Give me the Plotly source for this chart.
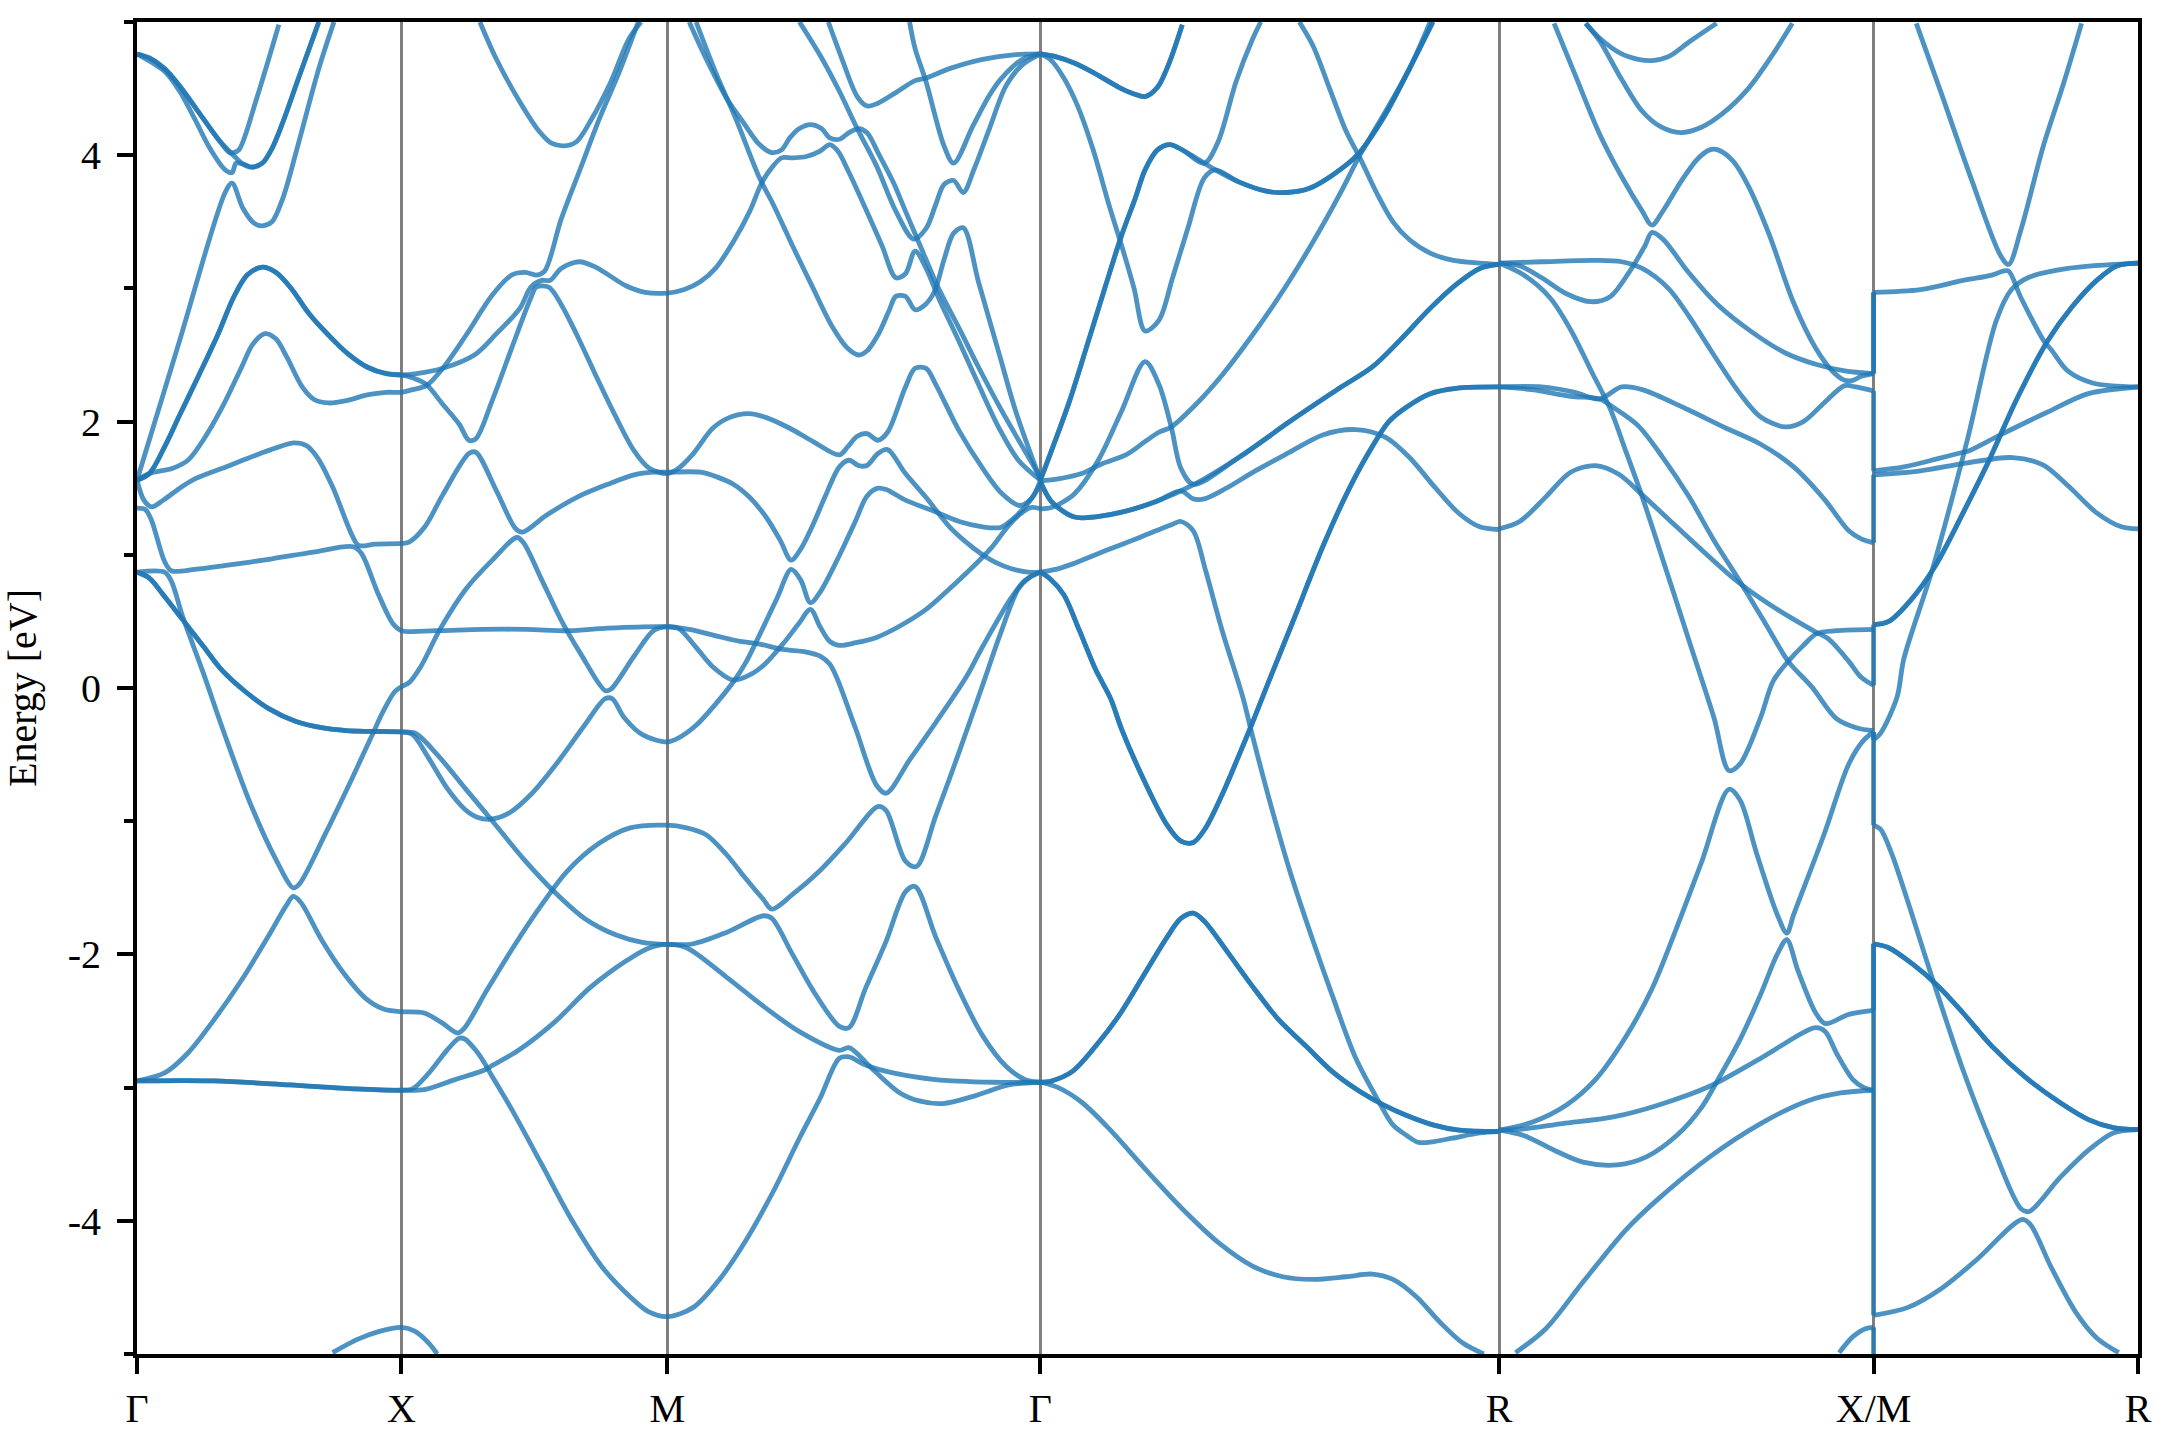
import plotly.graph_objects as go

# High-symmetry path positions and labels
k_ticks = [0, 1.92, 3.85, 6.56, 9.89, 12.61, 14.53]
k_labels = ["Γ", "X", "M", "Γ", "R", "X/M", "R"]
e_ticks = [-4, -2, 0, 2, 4]
e_labels = ["-4", "-2", "0", "2", "4"]
e_minor = [-5, -3, -1, 1, 3, 5]

# ---- Γ → X → M → Γ ----
k01 = [0,.09,.20,.31,.45,.59,.70,.76,.83,.91,.98,1.06,1.17,1.32]
e01 = [4.76,4.73,4.65,4.52,4.32,4.12,4.0,3.94,3.91,3.94,4.05,4.25,4.57,5.0]
k02 = [0,.09,.20,.31,.45,.59,.67,.70,.74,.87,1.03]
e02 = [4.76,4.73,4.65,4.52,4.32,4.12,4.02,4.02,4.04,4.43,4.98]
k03 = [0,.20,.31,.42,.53,.64,.69,.72,.78,.83,.91,.98,1.06,1.17,1.32]
e03 = [4.76,4.63,4.48,4.27,4.05,3.89,3.87,3.94,3.93,3.91,3.94,4.05,4.25,4.57,5.0]
k04 = [0,.31,.64,.69,.77,.85,.91,.98,1.06,1.17,1.32,1.43]
e04 = [1.56,2.61,3.72,3.79,3.60,3.49,3.47,3.50,3.68,4.08,4.65,5.0]
k05 = [0,.09,.20,.31,.45,.59,.70,.80,.91,1.01,1.12,1.25,1.39,1.53,1.67,1.81,1.92,
       2.03,2.22,2.45,2.61,2.78,2.86,2.94,3.0,3.08,3.21,3.33,3.55,3.69,3.85,
       3.97,4.09,4.20,4.33,4.45,4.54,4.62,4.68,4.76,4.86,4.96,5.03,5.09,5.17,5.29,5.41,5.51,5.58,5.65,5.73,5.82,5.97,6.11,6.26,6.40,6.56]
e05 = [1.56,1.61,1.81,2.05,2.35,2.66,2.93,3.10,3.16,3.12,3.0,2.81,2.65,2.51,2.41,2.36,2.35,
       2.36,2.40,2.50,2.66,2.85,3.01,3.06,3.06,3.15,3.20,3.16,3.02,2.97,2.965,
       2.99,3.05,3.15,3.35,3.58,3.80,3.92,3.98,3.98,3.99,4.03,4.08,4.03,3.87,3.60,3.32,3.08,3.11,3.28,3.15,2.93,2.60,2.28,1.95,1.71,1.56]
k06 = [0,.09,.20,.31,.45,.59,.70,.80,.91,1.01,1.12,1.25,1.39,1.53,1.67,1.81,1.92,
       2.0,2.10,2.22,2.34,2.41,2.46,2.58,2.72,2.86,2.90,2.99,3.08,3.19,3.33,3.47,3.61,3.72,3.85,
       3.92,4.04,4.18,4.30,4.44,4.57,4.74,4.91,5.10,5.16,5.23,5.30,5.38,5.45,5.58,5.65,5.73,5.80,5.97,6.14,6.28,6.41,6.50,6.56]
e06 = [1.56,1.61,1.81,2.05,2.35,2.66,2.93,3.10,3.16,3.12,3.0,2.81,2.65,2.51,2.41,2.36,2.35,
       2.33,2.28,2.13,1.98,1.86,1.87,2.16,2.55,2.93,3.01,3.01,2.88,2.66,2.35,2.05,1.78,1.65,1.61,
       1.64,1.76,1.95,2.03,2.06,2.03,1.95,1.85,1.75,1.81,1.89,1.91,1.86,1.92,2.26,2.40,2.40,2.28,1.93,1.65,1.46,1.37,1.43,1.56]
k07 = [0,.05,.105,.19,.31,.42,.645,.895,1.03,1.14,1.23,1.31,1.42,1.56,1.61,1.73,1.92,1.975,2.09,2.22,2.41,2.46,2.61,2.75,2.80,2.97,3.19,3.42,3.61,3.75,3.85,
       4.09,4.21,4.33,4.45,4.57,4.67,4.75,4.82,4.91,5.0,5.10,5.17,5.24,5.30,5.38,5.45,5.58,5.73,5.90,6.02,6.14,6.23,6.35,6.47,6.56]
e07 = [1.56,1.41,1.36,1.41,1.50,1.57,1.66,1.76,1.81,1.84,1.82,1.73,1.51,1.15,1.07,1.08,1.085,1.095,1.21,1.45,1.76,1.77,1.48,1.195,1.17,1.295,1.43,1.53,1.60,1.62,1.62,
       1.62,1.585,1.53,1.43,1.28,1.11,.96,1.045,1.23,1.445,1.66,1.71,1.67,1.67,1.76,1.79,1.61,1.43,1.21,1.095,1.0,.945,.895,.87,.87]
k08 = [0,.09,.26,.37,.48,.62,.76,.84,.93,1.01,1.09,1.20,1.28,1.39,1.53,1.67,1.81,1.92,2.0,2.10,2.22,2.39,2.58,2.72,2.82,2.90,2.96,3.08,3.22,3.36,3.50,3.64]
e08 = [1.56,1.61,1.65,1.71,1.86,2.11,2.41,2.58,2.66,2.62,2.48,2.26,2.17,2.14,2.16,2.20,2.22,2.22,2.24,2.27,2.40,2.65,2.95,3.10,3.12,3.10,3.13,3.52,3.90,4.28,4.62,5.0]
k09 = [2.49,2.61,2.78,2.92,3.01,3.10,3.19,3.30,3.44,3.57,3.66]
e09 = [5.0,4.72,4.40,4.18,4.09,4.07,4.10,4.27,4.55,4.87,5.0]
k10 = [0,.06,.105,.20,.25,.42,.645,.98,1.28,1.57,1.63,1.75,1.86,1.92,2.17,2.50,2.83,3.14,3.42,3.85,
       4.01,4.21,4.38,4.52,4.69,4.86,4.96,5.03,5.08,5.22,5.37,5.44,5.61,5.80,6.02,6.14,6.35,6.45,6.56]
e10 = [1.35,1.34,1.26,.95,.88,.89,.92,.97,1.02,1.06,1.01,.71,.48,.43,.43,.44,.44,.43,.45,.46,
       .44,.39,.35,.33,.29,.27,.24,.18,.08,-.31,-.73,-.79,-.54,-.26,.08,.31,.68,.81,.87]
k11 = [0,.20,.25,.33,.48,.63,.82,1.01,1.135,1.18,1.37,1.57,1.70,1.79,1.87,1.92,1.975,2.06,2.20,2.39,2.58,2.76,2.81,2.94,3.08,3.22,3.40,3.44,3.61,3.75,3.85,
       3.93,4.04,4.18,4.33,4.47,4.56,4.69,4.81,4.89,4.96,5.03,5.10,5.22,5.37,5.53,5.73,5.90,6.04,6.21,6.35,6.49,6.56]
e11 = [.87,.87,.80,.54,.117,-.33,-.86,-1.29,-1.50,-1.47,-1.09,-.66,-.37,-.17,-.03,.01,.04,.16,.44,.745,.96,1.13,1.085,.81,.51,.26,-.02,-.01,.24,.43,.46,
       .45,.33,.16,.06,.11,.18,.33,.49,.59,.46,.35,.32,.34,.38,.46,.59,.745,.88,1.06,1.245,1.355,1.345]
k12 = [0,.09,.19,.33,.48,.62,.79,.96,1.15,1.35,1.52,1.69,1.92,2.0,2.12,2.25,2.38,2.47,2.57,2.70,2.86,3.06,3.25,3.40,3.45,3.54,3.67,3.85,
       3.94,4.06,4.21,4.34,4.42,4.54,4.65,4.75,4.82,4.89,4.96,5.10,5.22,5.30,5.38,5.44,5.58,5.78,5.97,6.14,6.27,6.35,6.48,6.56]
e12 = [.87,.825,.70,.515,.315,.13,-.03,-.157,-.25,-.30,-.32,-.326,-.33,-.35,-.53,-.75,-.91,-.97,-.985,-.94,-.80,-.55,-.28,-.08,-.08,-.225,-.35,-.405,
       -.37,-.28,-.11,.06,.19,.44,.68,.89,.81,.64,.72,.995,1.26,1.44,1.50,1.49,1.41,1.33,1.25,1.21,1.205,1.26,1.40,1.53]
k13 = [0,.09,.19,.33,.48,.62,.79,.96,1.15,1.35,1.52,1.69,1.92,2.02,2.18,2.38,2.57,2.80,3.03,3.25,3.48,3.67,3.85,
       4.04,4.28,4.55,4.61,4.76,4.93,5.10,5.17,5.29,5.44,5.58,5.65,5.80,5.97,6.14,6.31,6.45,6.56]
e13 = [.87,.825,.70,.515,.315,.13,-.03,-.157,-.25,-.30,-.32,-.326,-.33,-.34,-.50,-.75,-.985,-1.275,-1.53,-1.73,-1.855,-1.91,-1.925,
       -1.92,-1.835,-1.71,-1.73,-2.0,-2.305,-2.54,-2.55,-2.255,-1.90,-1.53,-1.49,-1.87,-2.27,-2.61,-2.84,-2.94,-2.96]
k14 = [0,.20,.37,.56,.755,.95,1.08,1.135,1.19,1.34,1.50,1.66,1.79,1.92,2.085,2.21,2.33,2.38,2.54,2.73,2.93,3.12,3.35,3.58,3.85,
       3.99,4.13,4.28,4.42,4.55,4.61,4.76,4.96,5.15,5.38,5.44,5.58,5.66,5.80,5.97,6.16,6.26,6.40,6.48,6.56]
e14 = [-2.95,-2.89,-2.74,-2.49,-2.2,-1.87,-1.64,-1.565,-1.61,-1.89,-2.14,-2.33,-2.41,-2.43,-2.44,-2.51,-2.59,-2.55,-2.27,-1.95,-1.64,-1.38,-1.17,-1.05,-1.03,
       -1.05,-1.10,-1.25,-1.43,-1.59,-1.66,-1.55,-1.37,-1.16,-.89,-.92,-1.30,-1.34,-.96,-.48,.08,.38,.745,.83,.87]
k15 = [0,.56,1.11,1.59,1.92,2.085,2.31,2.52,2.57,2.77,3.03,3.29,3.55,3.71,3.85,
       3.99,4.28,4.55,4.81,5.10,5.17,5.34,5.54,5.68,5.85,6.09,6.33,6.56]
e15 = [-2.95,-2.95,-2.98,-3.01,-3.02,-3.015,-2.94,-2.87,-2.84,-2.72,-2.51,-2.25,-2.05,-1.955,-1.925,
       -1.95,-2.17,-2.39,-2.58,-2.72,-2.70,-2.86,-3.04,-3.10,-3.12,-3.06,-2.98,-2.96]
k16 = [0,.56,1.11,1.59,1.92,2.0,2.12,2.25,2.34,2.38,2.46,2.52,2.57,2.73,2.93,3.155,3.38,3.58,3.71,3.85,
       4.04,4.23,4.42,4.62,4.81,4.96,5.10,5.17,5.29,5.49,5.80,6.21,6.56]
e16 = [-2.95,-2.95,-2.98,-3.01,-3.02,-3.01,-2.89,-2.72,-2.63,-2.635,-2.72,-2.81,-2.9,-3.18,-3.56,-3.99,-4.35,-4.57,-4.68,-4.72,
       -4.65,-4.44,-4.15,-3.78,-3.38,-3.08,-2.78,-2.77,-2.83,-2.89,-2.94,-2.96,-2.96]
k17 = [1.42,1.6,1.76,1.92,2.02,2.12,2.18]
e17 = [-4.99,-4.89,-4.83,-4.8,-4.83,-4.92,-5.0]
k18 = [4.01,4.13,4.28,4.40,4.52,4.61,4.68,4.74,4.81,4.89,4.97,5.03,5.10,5.17,5.24,5.30,5.39,5.49,5.58,5.65,5.73,5.82,5.97,6.11,6.28,6.43,6.56]
e18 = [5.0,4.73,4.43,4.25,4.08,4.02,4.04,4.13,4.20,4.23,4.20,4.13,4.12,4.17,4.20,4.17,4.0,3.80,3.58,3.41,3.215,3.0,2.70,2.41,2.08,1.81,1.58]
k19 = [4.06,4.21,4.35,4.52,4.62,4.76,4.91,5.05,5.16,5.24,5.30,5.38,5.46,5.51,5.58,5.65,5.72,5.79,5.86,5.93,6.0,6.11,6.26,6.38,6.56]
e19 = [5.0,4.60,4.27,3.83,3.63,3.32,3.0,2.71,2.55,2.50,2.53,2.65,2.83,2.94,2.94,2.84,2.875,2.975,3.215,3.415,3.455,3.05,2.51,2.08,1.56]
k20 = [4.81,4.96,5.10,5.23,5.37,5.51,5.64,5.73,5.80,5.86,5.93,6.0,6.08,6.19,6.31,6.43,6.56]
e20 = [5.0,4.75,4.48,4.20,3.92,3.58,3.37,3.45,3.63,3.78,3.81,3.72,3.90,4.20,4.52,4.68,4.76]
k21 = [5.02,5.12,5.23,5.30,5.38,5.51,5.65,5.73,5.90,6.14,6.38,6.56]
e21 = [5.0,4.72,4.44,4.37,4.39,4.47,4.56,4.58,4.65,4.72,4.755,4.76]
k22 = [5.61,5.65,5.73,5.86,5.93,6.07,6.19,6.28,6.43,6.56]
e22 = [5.0,4.80,4.55,4.07,3.94,4.22,4.45,4.58,4.72,4.76]

# ---- Γ → R ----
k23 = [6.56,6.67,6.81,6.98,7.13,7.24,7.32,7.41,7.49,7.59]
e23 = [4.76,4.74,4.69,4.60,4.51,4.46,4.44,4.51,4.68,4.98]
k24 = [6.56,6.63,6.73,6.83,6.94,7.06,7.15,7.24,7.32,7.42,7.52,7.63,7.75,7.83,8.0,8.20,8.35,8.51,8.68,8.86,9.05,9.24,9.41]
e24 = [4.76,4.72,4.58,4.37,4.05,3.62,3.32,3.0,2.68,2.76,3.08,3.45,3.83,3.89,3.80,3.73,3.72,3.75,3.85,4.0,4.28,4.65,5.0]
k25 = [6.56,6.64,6.77,6.91,7.03,7.15,7.25,7.32,7.41,7.50,7.59,7.75,7.83,8.0,8.20,8.35,8.51,8.68,8.86,9.05,9.24,9.41]
e25 = [1.56,1.78,2.15,2.61,3.01,3.40,3.68,3.89,4.04,4.08,4.04,3.94,3.89,3.80,3.73,3.72,3.75,3.85,4.0,4.28,4.65,5.0]
k26 = [6.56,6.64,6.77,6.91,7.03,7.15,7.25,7.32,7.41,7.50,7.59,7.75,7.85,7.98,8.10,8.16]
e26 = [1.56,1.78,2.15,2.61,3.01,3.40,3.68,3.89,4.04,4.08,4.04,3.94,4.10,4.55,4.87,5.0]
k27 = [6.56,6.64,6.80,6.91,7.15,7.40,7.58,7.67,7.75,7.91,8.12,8.37,8.61,8.85,9.07,9.24,9.43,9.60,9.75,9.89]
e27 = [1.55,1.40,1.285,1.28,1.32,1.40,1.48,1.42,1.42,1.50,1.63,1.77,1.90,1.94,1.88,1.73,1.50,1.31,1.21,1.19]
k28 = [6.56,6.64,6.80,6.91,7.15,7.40,7.68,8.0,8.37,8.73,8.97,9.17,9.39,9.58,9.75,9.89]
e28 = [1.55,1.40,1.285,1.28,1.32,1.40,1.53,1.73,2.0,2.25,2.41,2.61,2.85,3.03,3.15,3.18]
k29 = [6.56,6.64,6.73,6.81,6.98,7.15,7.32,7.42,7.51,7.58,7.67,8.0,8.37,8.73,8.97,9.17,9.39,9.58,9.75,9.89]
e29 = [1.345,1.355,1.40,1.46,1.71,2.08,2.45,2.28,1.96,1.65,1.53,1.73,2.0,2.25,2.41,2.61,2.85,3.03,3.15,3.18]
k30 = [6.56,6.69,6.86,7.0,7.18,7.32,7.42,7.51,7.69,7.88,8.10,8.32,8.54,8.73,8.88,9.05,9.24,9.39]
e30 = [1.555,1.57,1.61,1.68,1.75,1.85,1.92,1.96,2.13,2.35,2.65,2.98,3.35,3.70,4.0,4.30,4.65,5.0]
k31 = [8.44,8.54,8.66,8.78,8.88,9.0,9.12,9.24,9.39,9.56,9.75,9.89]
e31 = [5.0,4.82,4.50,4.18,3.98,3.72,3.50,3.365,3.265,3.21,3.19,3.18]
k32 = [6.56,6.67,6.79,7.03,7.28,7.52,7.58,7.67,7.76,7.88,8.03,8.10,8.22,8.37,8.54,8.68,8.85,9.02,9.12,9.22,9.30,9.39,9.55,9.75,9.89]
e32 = [.87,.89,.93,1.03,1.13,1.23,1.25,1.18,.88,.43,-.07,-.36,-.83,-1.37,-1.90,-2.31,-2.78,-3.11,-3.28,-3.36,-3.41,-3.41,-3.38,-3.34,-3.33]
k33 = [6.56,6.63,6.73,6.84,6.96,7.07,7.15,7.32,7.48,7.58,7.67,7.76,7.88,8.0,8.10,8.23,8.39,8.61,8.78,8.94,9.09,9.22,9.39,9.58,9.89]
e33 = [.87,.82,.70,.44,.14,-.08,-.31,-.71,-1.03,-1.15,-1.16,-1.05,-.80,-.51,-.26,.08,.49,1.06,1.45,1.76,2.0,2.11,2.21,2.25,2.26]
k34 = [6.56,6.64,6.79,6.96,7.13,7.32,7.48,7.58,7.67,7.75,7.91,8.10,8.29,8.49,8.68,8.88,9.05,9.22,9.41,9.60,9.89]
e34 = [-2.96,-2.95,-2.88,-2.69,-2.46,-2.14,-1.87,-1.73,-1.69,-1.75,-1.97,-2.24,-2.49,-2.69,-2.88,-3.03,-3.13,-3.21,-3.28,-3.32,-3.33]
k35 = [6.56,6.69,6.86,7.06,7.32,7.61,7.86,8.10,8.32,8.54,8.78,8.97,9.12,9.29,9.46,9.63,9.78]
e35 = [-2.96,-3.0,-3.11,-3.31,-3.61,-3.93,-4.17,-4.34,-4.42,-4.44,-4.42,-4.40,-4.44,-4.57,-4.76,-4.92,-5.0]

# ---- R → X ----
k36 = [10.29,10.44,10.62,10.78,10.93,11.0,11.08,11.21,11.33,11.42,11.48,11.59,11.70,11.85,12.03,12.19,12.31,12.40,12.46,12.52,12.61]
e36 = [4.99,4.61,4.16,3.84,3.58,3.475,3.58,3.80,3.97,4.04,4.04,3.955,3.77,3.41,2.89,2.55,2.38,2.31,2.31,2.34,2.36]
k37 = [10.52,10.62,10.78,10.90,11.0,11.12,11.27,11.47]
e37 = [4.99,4.88,4.76,4.72,4.71,4.74,4.85,4.99]
k38 = [10.52,10.62,10.78,10.93,11.07,11.21,11.36,11.51,11.70,11.88,12.02]
e38 = [4.99,4.86,4.57,4.33,4.21,4.17,4.21,4.31,4.50,4.76,4.99]
k39 = [9.89,10.04,10.20,10.38,10.56,10.70,10.84,10.95,11.0,11.08,11.27,11.48,11.73,11.97,12.19,12.40,12.61]
e39 = [3.19,3.17,3.08,2.96,2.90,2.94,3.13,3.32,3.42,3.37,3.115,2.875,2.67,2.515,2.43,2.38,2.36]
k40 = [9.89,10.20,10.59,10.78,10.93,11.12,11.27,11.45,11.64,11.79,11.97,12.10,12.25,12.40,12.48,12.61]
e40 = [3.19,3.20,3.21,3.20,3.15,3.0,2.79,2.50,2.21,2.035,1.96,2.0,2.14,2.27,2.26,2.23]
k41 = [9.89,10.07,10.26,10.41,10.56,10.70,10.81,10.93,11.12,11.27,11.45,11.56,11.64,11.79,11.88,11.99,12.10,12.20,12.34,12.61]
e41 = [3.19,3.10,2.93,2.69,2.38,2.09,1.78,1.435,.835,.355,-.22,-.62,-.57,-.22,.05,.20,.32,.41,.43,.44]
k42 = [9.89,10.20,10.44,10.62,10.78,10.93,11.24,11.54,11.79,12.03,12.25,12.43,12.52,12.61]
e42 = [2.26,2.26,2.22,2.17,2.26,2.24,2.10,1.95,1.83,1.66,1.42,1.18,1.12,1.09]
k43 = [9.89,10.13,10.41,10.62,10.73,10.90,11.08,11.27,11.45,11.64,11.85,11.99,12.16,12.34,12.49,12.61]
e43 = [2.26,2.24,2.19,2.17,2.10,1.97,1.73,1.435,1.11,.80,.44,.20,.01,-.23,-.30,-.32]
k44 = [9.89,10.04,10.23,10.41,10.59,10.76,10.93,11.18,11.39,11.62,11.85,12.19,12.28,12.43,12.52,12.61]
e44 = [1.195,1.25,1.435,1.62,1.67,1.605,1.45,1.21,1.01,.80,.63,.42,.37,.20,.08,.02]
k45 = [9.89,10.07,10.35,10.72,11.05,11.42,11.79,12.19,12.26,12.34,12.46,12.54,12.61]
e45 = [-3.32,-3.31,-3.27,-3.22,-3.13,-2.99,-2.78,-2.55,-2.58,-2.74,-2.94,-3.0,-3.02]
k46 = [9.89,10.13,10.38,10.59,10.81,11.0,11.18,11.36,11.56,11.64,11.76,11.91,11.98,12.03,12.25,12.43,12.54,12.61]
e46 = [-3.32,-3.26,-3.13,-2.94,-2.62,-2.26,-1.80,-1.31,-.76,-.84,-1.24,-1.70,-1.84,-1.70,-1.10,-.57,-.39,-.33]
k47 = [9.89,10.07,10.29,10.50,10.75,10.96,11.18,11.36,11.48,11.64,11.79,11.91,11.98,12.06,12.19,12.26,12.43,12.61]
e47 = [-3.32,-3.36,-3.47,-3.56,-3.58,-3.52,-3.36,-3.15,-2.94,-2.64,-2.30,-2.0,-1.89,-2.12,-2.44,-2.52,-2.45,-2.42]
k48 = [10.01,10.23,10.50,10.81,11.02,11.42,11.79,12.13,12.37,12.61]
e48 = [-4.99,-4.81,-4.46,-4.07,-3.86,-3.52,-3.27,-3.10,-3.04,-3.02]
k49 = [12.36,12.46,12.55,12.61]
e49 = [-4.99,-4.87,-4.81,-4.80]

# ---- M → R ----
k50 = [12.61,12.95,13.26,13.47,13.55,13.59,13.68,13.85,13.90,14.02,14.20,14.53]
e50 = [2.97,2.99,3.06,3.10,3.13,3.13,2.93,2.60,2.54,2.38,2.29,2.26]
k51 = [12.92,13.10,13.32,13.53,13.59,13.68,13.84,13.99,14.12]
e51 = [4.99,4.47,3.82,3.25,3.18,3.44,4.06,4.54,4.99]
k52 = [12.61,12.83,13.07,13.26,13.30,13.53,13.87,14.17,14.53]
e52 = [1.63,1.66,1.72,1.77,1.78,1.90,2.07,2.21,2.26]
k53 = [12.61,12.95,13.26,13.62,13.84,14.02,14.23,14.41,14.53]
e53 = [1.60,1.63,1.685,1.73,1.675,1.52,1.315,1.21,1.195]
k54 = [12.61,12.72,12.88,13.06,13.26,13.44,13.65,13.87,14.05,14.23,14.38,14.53]
e54 = [.475,.50,.66,.92,1.315,1.69,2.17,2.60,2.86,3.06,3.17,3.19]
k55 = [12.61,12.66,12.78,12.83,13.04,13.29,13.50,13.61,13.73,14.02,14.53]
e55 = [-.39,-.34,-.07,.22,.90,1.86,2.755,2.99,3.08,3.15,3.19]
k56 = [12.61,12.66,12.74,13.04,13.26,13.47,13.68,13.74,13.96,14.17,14.35,14.53]
e56 = [-1.03,-1.06,-1.24,-2.19,-2.87,-3.43,-3.91,-3.93,-3.68,-3.47,-3.34,-3.315]
k57 = [12.61,12.72,12.89,13.07,13.26,13.47,13.71,13.96,14.17,14.35,14.53]
e57 = [-1.92,-1.95,-2.07,-2.23,-2.44,-2.69,-2.92,-3.11,-3.24,-3.30,-3.315]
k58 = [12.61,12.86,13.10,13.35,13.69,13.75,13.90,14.08,14.23,14.39]
e58 = [-4.71,-4.65,-4.51,-4.30,-3.99,-4.03,-4.35,-4.69,-4.88,-4.99]

# Jumps where the path breaks at X/M
k_jump = [12.61, 12.61]
e_j1 = [2.36, 2.97]
e_j2 = [2.23, 1.63]
e_j3 = [1.60, 1.09]
e_j4 = [.475, .02]
e_j5 = [-.33, -.39]
e_j6 = [-.33, -1.03]
e_j7 = [-1.92, -2.42]
e_j8 = [-1.92, -3.02]
e_j9 = [-3.02, -4.71]
e_j10 = [-4.80, -5.0]

curves = [
    (k01, e01), (k02, e02), (k03, e03), (k04, e04), (k05, e05), (k06, e06), (k07, e07), (k08, e08),
    (k09, e09), (k10, e10), (k11, e11), (k12, e12), (k13, e13), (k14, e14), (k15, e15), (k16, e16),
    (k17, e17), (k18, e18), (k19, e19), (k20, e20), (k21, e21), (k22, e22),
    (k23, e23), (k23, e23), (k24, e24), (k25, e25), (k26, e26), (k27, e27), (k28, e28), (k29, e29),
    (k30, e30), (k31, e31), (k32, e32), (k33, e33), (k33, e33), (k34, e34), (k34, e34), (k35, e35),
    (k36, e36), (k37, e37), (k38, e38), (k39, e39), (k40, e40), (k41, e41), (k42, e42), (k43, e43),
    (k44, e44), (k45, e45), (k46, e46), (k47, e47), (k48, e48), (k49, e49),
    (k50, e50), (k51, e51), (k52, e52), (k53, e53), (k54, e54), (k54, e54), (k55, e55), (k56, e56),
    (k57, e57), (k57, e57), (k58, e58),
    (k_jump, e_j1), (k_jump, e_j1), (k_jump, e_j2), (k_jump, e_j3), (k_jump, e_j4), (k_jump, e_j5),
    (k_jump, e_j6), (k_jump, e_j7), (k_jump, e_j8), (k_jump, e_j9), (k_jump, e_j10),
]

LINE = "rgba(31,119,180,0.8)"
SERIF = "Liberation Serif"

fig = go.Figure()
for k, e in curves:
    fig.add_trace(go.Scatter(x=k, y=e, mode="lines", hoverinfo="skip", showlegend=False,
                             line=dict(color=LINE, width=4.8, shape="spline", smoothing=0.9)))

fig.update_layout(
    width=2160, height=1440, paper_bgcolor="white", plot_bgcolor="white",
    margin=dict(l=137, r=22, t=22, b=86, autoexpand=False),
    font=dict(family=SERIF, size=40, color="black"),
    xaxis=dict(range=[0, 14.53], tickmode="array", tickvals=k_ticks, ticktext=k_labels,
               showgrid=True, gridcolor="rgba(0,0,0,0.5)", gridwidth=2.5, zeroline=False,
               showline=True, linecolor="black", linewidth=4, mirror=True,
               ticks="outside", ticklen=16, tickwidth=4, tickcolor="black"),
    yaxis=dict(range=[-5, 5], tickmode="array", tickvals=e_ticks, ticktext=e_labels,
               showgrid=False, zeroline=False,
               showline=True, linecolor="black", linewidth=4, mirror=True,
               ticks="outside", ticklen=16, tickwidth=4, tickcolor="black", ticklabelstandoff=8,
               minor=dict(tickmode="array", tickvals=e_minor, ticks="outside", ticklen=9,
                          tickwidth=3.5, tickcolor="black", showgrid=False),
               title=dict(text="Energy [eV]", font=dict(family=SERIF, size=40), standoff=24)),
)
fig.write_html("out.html", config={"displayModeBar": False},
               post_script="document.body.style.margin='0';")
